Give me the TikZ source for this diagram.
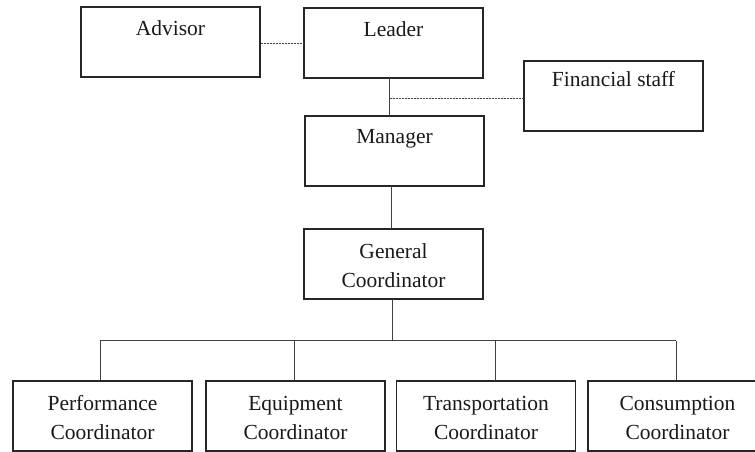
\documentclass[tikz,border=0pt]{standalone}
\usepackage{fontspec}
\setmainfont{Liberation Serif}
\begin{document}
\begin{tikzpicture}[x=1pt,y=-1pt,
  box/.style={draw=black!85,line width=1.6pt,minimum width=179pt,minimum height=70pt,inner sep=0pt},
  lbl/.style={anchor=base,inner sep=0pt,font=\fontsize{21.5}{28}\selectfont,text=black!90},
  conn/.style={draw=black!75,line width=1pt},
  dconn/.style={draw=black!75,line width=1pt,dash pattern=on 2pt off 1pt}]
\useasboundingbox (0,0) rectangle (755,452);
% boxes
\node[box] (adv) at (170.5,42) {};
\node[box] (ldr) at (393.5,43) {};
\node[box] (fin) at (613.5,96) {};
\node[box] (mgr) at (394.5,151) {};
\node[box] (gen) at (393.5,264) {};
\node[box] (perf) at (102.5,416) {};
\node[box] (equip) at (295.5,416) {};
\node[box] (trans) at (486,416) {};
\node[box] (cons) at (677.5,416) {};
% labels
\node[lbl] at ([yshift=-29pt]adv.north) {Advisor};
\node[lbl] at ([yshift=-29pt]ldr.north) {Leader};
\node[lbl] at ([yshift=-26pt]fin.north) {Financial staff};
\node[lbl] at ([yshift=-28pt]mgr.north) {Manager};
\node[lbl] at ([yshift=-30pt]gen.north) {General};
\node[lbl] at ([yshift=-59pt]gen.north) {Coordinator};
\node[lbl] at ([yshift=-30pt]perf.north) {Performance};
\node[lbl] at ([yshift=-59pt]perf.north) {Coordinator};
\node[lbl] at ([yshift=-30pt]equip.north) {Equipment};
\node[lbl] at ([yshift=-59pt]equip.north) {Coordinator};
\node[lbl] at ([yshift=-30pt]trans.north) {Transportation};
\node[lbl] at ([yshift=-59pt]trans.north) {Coordinator};
\node[lbl] at ([yshift=-30pt]cons.north) {Consumption};
\node[lbl] at ([yshift=-59pt]cons.north) {Coordinator};
% connectors
\draw[dconn] ([yshift=-1.5pt]adv.east) -- ([yshift=-1.5pt]adv.east -| ldr.west);
\coordinate (ltop) at (389.5,78);
\coordinate (lbot) at (389.5,116);
\draw[conn] (ltop) -- (lbot);
\coordinate (fj) at (389.5,98);
\draw[dconn] (fj) -- (fj -| fin.west);
\coordinate (mtop) at (391.5,186);
\coordinate (gtop) at (391.5,229);
\draw[conn] (mtop) -- (gtop);
\coordinate (gbot) at (392,299);
\coordinate (bus) at (392,340.5);
\draw[conn] (gbot) -- (bus);
\coordinate (b1) at (100,340.5);
\coordinate (b4) at (676,340.5);
\draw[conn] (b1) -- (b4);
\draw[conn] (b1) -- (b1 |- perf.north);
\draw[conn] (294,340.5) -- (294,381);
\draw[conn] (495.7,340.5) -- (495.7,381);
\draw[conn] (b4) -- (b4 |- cons.north);
\end{tikzpicture}
\end{document}
